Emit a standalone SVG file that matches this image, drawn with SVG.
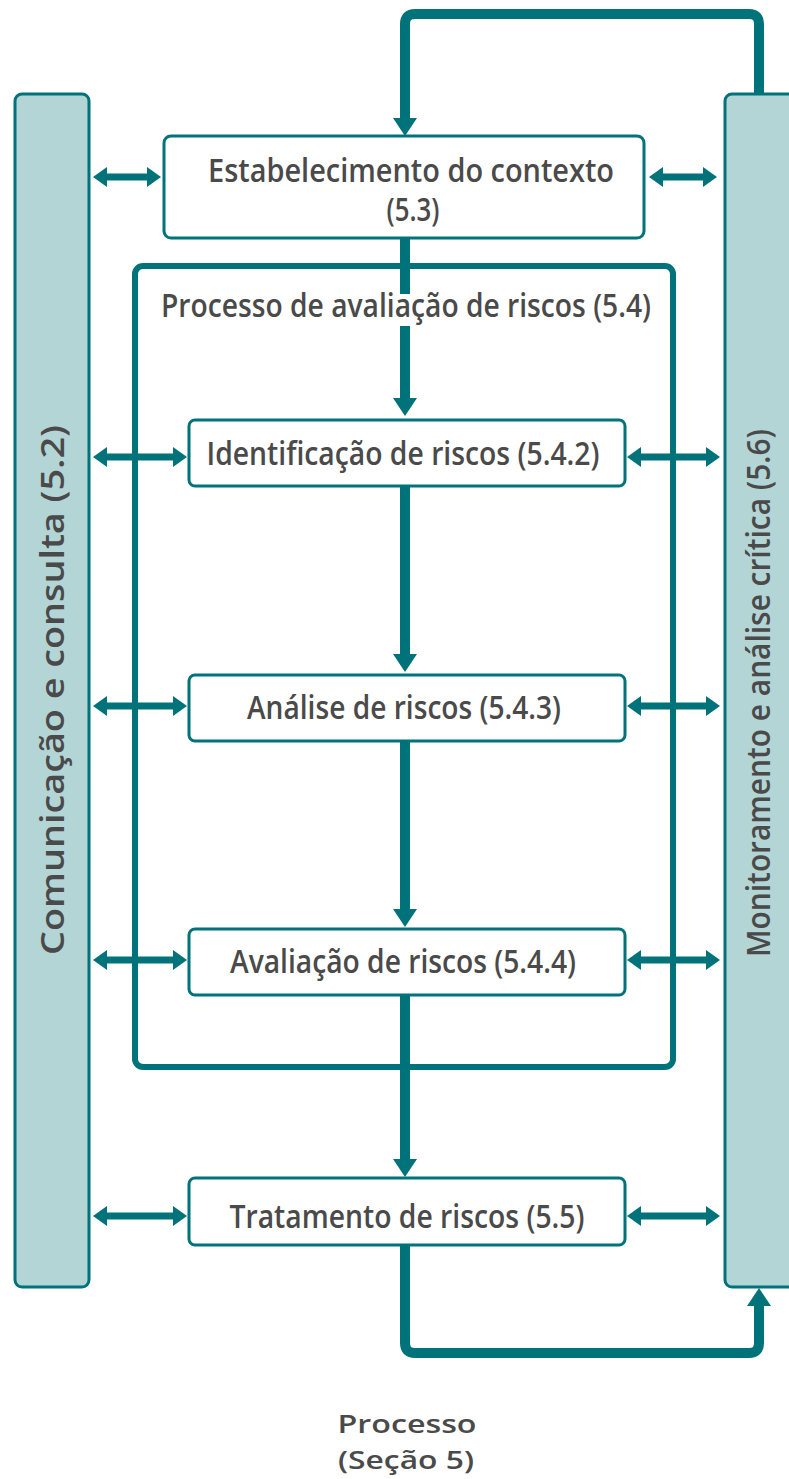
<svg xmlns="http://www.w3.org/2000/svg" width="789" height="1479" viewBox="0 0 789 1479">
<defs>
<style>
.bar{fill:#b3d5d6;stroke:#00737a;stroke-width:3}
.box{fill:#fff;stroke:#00737a;stroke-width:3}
.frame{fill:none;stroke:#00737a;stroke-width:6}
.flow{fill:none;stroke:#00737a;stroke-width:10}
.loop{fill:none;stroke:#00737a;stroke-width:10;stroke-linejoin:round}
.dbl{fill:none;stroke:#00737a;stroke-width:7}
.t{font-family:"Open Sans","Liberation Sans",sans-serif;font-weight:600;font-size:32px;fill:#4a4a4a;text-anchor:middle}
.tb{font-size:26px}
</style>
<marker id="head" markerUnits="userSpaceOnUse" viewBox="0 0 18 24" markerWidth="18" markerHeight="24" refX="1" refY="12" orient="auto-start-reverse">
<path d="M0,0 L18,12 L0,24 Z" fill="#00737a"/>
</marker>
<marker id="sm" markerUnits="userSpaceOnUse" viewBox="0 0 14 20" markerWidth="14" markerHeight="20" refX="1" refY="10" orient="auto-start-reverse">
<path d="M0,0 L14,10 L0,20 Z" fill="#00737a"/>
</marker>
</defs>
<rect width="789" height="1479" fill="#fff"/>

<g id="comunicacao">
<rect class="bar" x="15" y="94" width="74" height="1193" rx="7"/>
<text class="t" transform="translate(64,690) rotate(-90)" textLength="530" lengthAdjust="spacingAndGlyphs">Comunicação e consulta (5.2)</text>
</g>
<g id="monitoramento">
<rect class="bar" x="725" y="94" width="80" height="1193" rx="7"/>
<text class="t" transform="translate(770,693) rotate(-90)" textLength="528" lengthAdjust="spacingAndGlyphs">Monitoramento e análise crítica (5.6)</text>
</g>

<g id="frame-avaliacao">
<rect class="frame" x="135" y="266" width="538" height="801" rx="8"/>
</g>

<g id="connectors">
<path class="loop" d="M759,93 V24 Q759,14 749,14 H415 Q405,14 405,24 V119" marker-end="url(#head)"/>
<path class="flow" d="M405,239 V399" marker-end="url(#head)"/>
<path class="flow" d="M405,487 V655" marker-end="url(#head)"/>
<path class="flow" d="M405,741 V910" marker-end="url(#head)"/>
<path class="flow" d="M405,995 V1160" marker-end="url(#head)"/>
<path class="loop" d="M405,1246 V1343 Q405,1353 415,1353 H749 Q759,1353 759,1343 V1305" marker-end="url(#head)"/>
<path class="dbl" d="M106,177 H148" marker-start="url(#sm)" marker-end="url(#sm)"/>
<path class="dbl" d="M662,177 H704" marker-start="url(#sm)" marker-end="url(#sm)"/>
<path class="dbl" d="M106,457 H174" marker-start="url(#sm)" marker-end="url(#sm)"/>
<path class="dbl" d="M640,457 H707" marker-start="url(#sm)" marker-end="url(#sm)"/>
<path class="dbl" d="M106,706 H174" marker-start="url(#sm)" marker-end="url(#sm)"/>
<path class="dbl" d="M640,706 H707" marker-start="url(#sm)" marker-end="url(#sm)"/>
<path class="dbl" d="M106,960 H174" marker-start="url(#sm)" marker-end="url(#sm)"/>
<path class="dbl" d="M640,960 H707" marker-start="url(#sm)" marker-end="url(#sm)"/>
<path class="dbl" d="M106,1216 H174" marker-start="url(#sm)" marker-end="url(#sm)"/>
<path class="dbl" d="M640,1216 H707" marker-start="url(#sm)" marker-end="url(#sm)"/>
</g>

<g id="label-avaliacao">
<rect x="160" y="294" width="494" height="32" fill="#fff"/>
<text class="t" x="406" y="317" textLength="490" lengthAdjust="spacingAndGlyphs">Processo de avaliação de riscos (5.4)</text>
</g>

<g id="contexto">
<rect class="box" x="164" y="136" width="480" height="102" rx="7"/>
<text class="t" x="411" y="182" textLength="406" lengthAdjust="spacingAndGlyphs">Estabelecimento do contexto</text>
<text class="t" x="413" y="221" textLength="53" lengthAdjust="spacingAndGlyphs">(5.3)</text>
</g>
<g id="identificacao">
<rect class="box" x="189" y="420" width="436" height="66" rx="6"/>
<text class="t" x="403" y="465" textLength="393" lengthAdjust="spacingAndGlyphs">Identificação de riscos (5.4.2)</text>
</g>
<g id="analise">
<rect class="box" x="189" y="675" width="436" height="66" rx="6"/>
<text class="t" x="404" y="719" textLength="314" lengthAdjust="spacingAndGlyphs">Análise de riscos (5.4.3)</text>
</g>
<g id="avaliacao">
<rect class="box" x="189" y="929" width="436" height="66" rx="6"/>
<text class="t" x="403" y="973" textLength="346" lengthAdjust="spacingAndGlyphs">Avaliação de riscos (5.4.4)</text>
</g>
<g id="tratamento">
<rect class="box" x="189" y="1178" width="436" height="67" rx="6"/>
<text class="t" x="407" y="1228" textLength="355" lengthAdjust="spacingAndGlyphs">Tratamento de riscos (5.5)</text>
</g>

<g id="titulo">
<text class="t tb" x="407" y="1433" textLength="139" lengthAdjust="spacingAndGlyphs">Processo</text>
<text class="t tb" x="406" y="1469" textLength="136" lengthAdjust="spacingAndGlyphs">(Seção 5)</text>
</g>
</svg>
